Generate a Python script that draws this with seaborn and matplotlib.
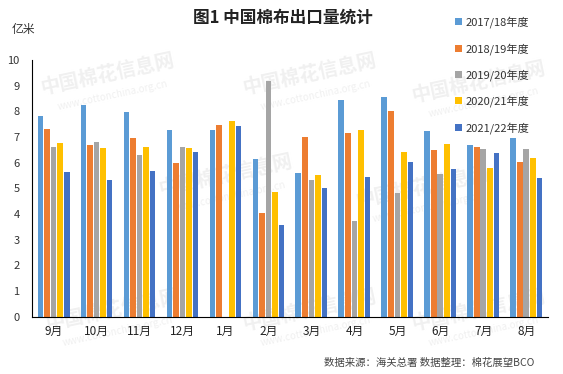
import numpy as np
import pandas as pd
import matplotlib
matplotlib.use("Agg")
import matplotlib.pyplot as plt
import seaborn as sns

months = ["9月", "10月", "11月", "12月", "1月", "2月", "3月", "4月", "5月", "6月", "7月", "8月"]
seasons = ["2017/18年度", "2018/19年度", "2019/20年度", "2020/21年度", "2021/22年度"]
s1718 = [7.82, 8.26, 7.97, 7.25, 7.27, 6.14, 5.60, 8.44, 8.56, 7.24, 6.69, 6.96]
s1819 = [7.31, 6.69, 6.96, 5.99, 7.47, 4.04, 7.00, 7.16, 8.02, 6.50, 6.61, 6.03]
s1920 = [6.61, 6.81, 6.30, 6.61, np.nan, 9.18, 5.33, 3.73, 4.83, 5.56, 6.54, 6.54]
s2021 = [6.77, 6.55, 6.62, 6.55, 7.62, 4.86, 5.52, 7.27, 6.42, 6.73, 5.80, 6.19]
s2122 = [5.64, 5.34, 5.69, 6.43, 7.43, 3.57, 5.01, 5.44, 6.03, 5.75, 6.38, 5.40]
colors = ["#5B9BD5", "#ED7D31", "#A5A5A5", "#FFC000", "#4472C4"]

rows = []
for season, vals in zip(seasons, [s1718, s1819, s1920, s2021, s2122]):
    for m, v in zip(months, vals):
        rows.append({"month": m, "season": season, "value": v})
df = pd.DataFrame(rows)

sns.set_style("white")
plt.rcParams["font.family"] = ["Noto Sans CJK SC", "DejaVu Sans"]

fig = plt.figure(figsize=(5.63, 3.74), dpi=100)
ax = fig.add_axes([0.057, 0.153, 0.916, 0.687])
ax.set_zorder(2)
ax.patch.set_alpha(0)

# faint watermark behind the bars
for wx, wy in [(0.19, 0.80), (0.55, 0.80), (0.85, 0.78), (0.40, 0.53),
               (0.75, 0.50), (0.20, 0.17), (0.55, 0.17), (0.85, 0.17)]:
    fig.text(wx, wy, "中国棉花信息网", fontsize=14, fontweight="bold",
             color="#f0f0f0", rotation=12, ha="center", va="center", zorder=0)
    fig.text(wx + 0.01, wy - 0.055, "www.cottonchina.org.cn", fontsize=7,
             color="#f0f0f0", rotation=12, ha="center", va="center", zorder=0)

sns.barplot(data=df, x="month", y="value", hue="season", order=months,
            hue_order=seasons, palette=colors, width=0.76, gap=0.12,
            saturation=1, linewidth=0, ax=ax, legend=True)

ax.set_ylim(0, 10)
ax.set_xlim(-0.5, len(months) - 0.5)
ax.set_yticks(range(0, 11))
ax.set_xlabel("")
ax.set_ylabel("")
sns.despine(ax=ax)
for s in ["left", "bottom"]:
    ax.spines[s].set_color("black")
    ax.spines[s].set_linewidth(0.8)
ax.tick_params(axis="y", labelsize=8, length=3, direction="out", color="black",
               labelcolor="#333333", pad=6)
ax.tick_params(axis="x", which="major", labelsize=8.5, length=0, pad=6,
               labelcolor="#222222")
ax.set_xticks(np.arange(-0.5, len(months) + 0.5, 1), minor=True)
ax.tick_params(axis="x", which="minor", length=4, color="black", direction="out")

handles, labels = ax.get_legend_handles_labels()
ax.get_legend().remove()
fig.legend(handles, labels, loc="upper left", bbox_to_anchor=(0.8, 0.968),
           frameon=False, fontsize=8, labelspacing=1.3, handlelength=0.6,
           handleheight=0.6, handletextpad=0.4, borderaxespad=0,
           labelcolor="#333333")

fig.text(0.503, 0.952, "图1 中国棉布出口量统计", ha="center", va="center",
         fontsize=12, fontweight="bold", color="#222222")
fig.text(0.02, 0.92, "亿米", ha="left", va="center", fontsize=8.5, color="#333333")
fig.text(0.950, 0.029, "数据来源：海关总署 数据整理：棉花展望BCO", ha="right",
         va="center", fontsize=7.5, color="#444444")

fig.savefig("out.png", dpi=100)
